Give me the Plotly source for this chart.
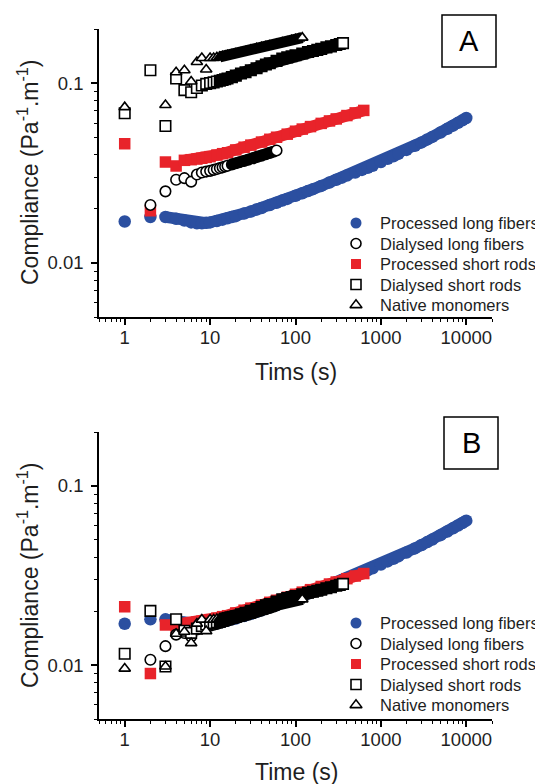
import plotly.graph_objects as go
import math

# ---------------- data ----------------
# Panel A: raw creep compliance curves
t_blue = [1, 2, 3, 4, 5, 6, 7, 8, 9, 10, 12, 14, 16, 18, 20, 25, 30, 35, 40, 50, 60, 70, 80,
          100, 120, 140, 160, 200, 250, 300, 350, 400, 500, 600, 700, 800, 1000, 1200, 1400,
          1600, 2000, 2500, 3000, 3500, 4000, 5000, 6000, 7000, 8000, 9000, 10000]
c_blue = [0.0170, 0.0180, 0.0180, 0.0176, 0.0172, 0.0168, 0.0166, 0.0166, 0.0167, 0.0168,
          0.0171, 0.0174, 0.0177, 0.0180, 0.0182, 0.0188, 0.0193, 0.0198, 0.0202, 0.0210,
          0.0216, 0.0222, 0.0227, 0.0236, 0.0244, 0.0251, 0.0257, 0.0268, 0.0280, 0.0290,
          0.0298, 0.0306, 0.0318, 0.0329, 0.0338, 0.0347, 0.0364, 0.0379, 0.0392, 0.0404,
          0.0425, 0.0448, 0.0468, 0.0486, 0.0502, 0.0531, 0.0557, 0.0580, 0.0601, 0.0621,
          0.0640]

t_red = [1, 2, 3, 4, 5, 6, 7, 8, 9, 10, 12, 14, 16, 20, 25, 30, 40, 50, 60, 80, 100, 120,
         150, 200, 250, 300, 400, 500, 630]
c_red = [0.046, 0.0195, 0.0364, 0.0346, 0.0372, 0.0375, 0.0378, 0.0382, 0.0386, 0.0390,
         0.0398, 0.0405, 0.0410, 0.0425, 0.0440, 0.0452, 0.0470, 0.0487, 0.0500, 0.0520,
         0.0540, 0.0555, 0.0573, 0.0597, 0.0616, 0.0632, 0.0660, 0.0683, 0.0705]

t_circ = [2, 3, 4, 5, 6, 7, 8, 9, 10, 11, 12, 13, 14, 15, 16, 18, 20, 22, 25, 28, 32, 36,
          40, 45, 50, 55, 60]
c_circ = [0.021, 0.025, 0.029, 0.0296, 0.0283, 0.0310, 0.0318, 0.0322, 0.0325, 0.0329,
          0.0333, 0.0337, 0.0340, 0.0344, 0.0347, 0.0353, 0.0358, 0.0363, 0.0369, 0.0375,
          0.0382, 0.0389, 0.0395, 0.0402, 0.0409, 0.0415, 0.0422]

t_sq = [1, 2, 3, 4, 5, 6, 7, 8, 9, 10, 11, 12, 13, 14, 15, 16, 18, 20, 23, 26, 30, 35, 40,
        45, 50, 60, 70, 80, 90, 100, 120, 140, 160, 180, 200, 230, 260, 300, 330, 360]
c_sq = [0.068, 0.118, 0.0577, 0.106, 0.0914, 0.089, 0.094, 0.097, 0.099, 0.100, 0.101,
        0.102, 0.103, 0.104, 0.105, 0.106, 0.108, 0.110, 0.113, 0.115, 0.118, 0.121, 0.124,
        0.127, 0.129, 0.133, 0.137, 0.139, 0.141, 0.143, 0.146, 0.149, 0.151, 0.153, 0.155,
        0.158, 0.160, 0.163, 0.165, 0.167]

t_tri = [1, 3, 4, 5, 6, 7, 8, 9, 10, 11, 12, 13, 14, 15, 16, 18, 20, 23, 26, 30, 35, 40,
         45, 50, 60, 70, 80, 90, 100, 110, 120]
c_tri = [0.0735, 0.0755, 0.115, 0.118, 0.102, 0.131, 0.138, 0.119, 0.138, 0.138, 0.139,
         0.140, 0.141, 0.142, 0.143, 0.144, 0.146, 0.148, 0.150, 0.153, 0.156, 0.158, 0.160,
         0.162, 0.165, 0.168, 0.170, 0.173, 0.175, 0.177, 0.179]

# Panel B: vertical shift factors (master curve onto processed long fibers)
shift_blue = 1.0
shift_red = 0.46
shift_circ = 0.51
shift_sq = 0.17
shift_tri = 0.13

series_names = ["Processed long fibers", "Dialysed long fibers", "Processed short rods",
                "Dialysed short rods", "Native monomers"]
x_tick_vals = [1, 10, 100, 1000, 10000]
x_tick_text = ["1", "10", "100", "1000", "10000"]
y_tick_vals = [0.01, 0.1]
y_tick_text = ["0.01", "0.1"]

# ---------------- style ----------------
BLUE = "#2b4fa0"
RED = "#e8232a"
FONT = "Arial, Liberation Sans, sans-serif"
TXT = "#1e1e1e"

# plot area in window pixels (the page body adds an 8 px offset)
OFF = 8
PL, PR = 99, 492
PT, PB = 29, 719
W, H = 543, 784

def px(xp):
    return (xp - PL) / (PR - PL)

def py(yp):
    return (PB - yp) / (PB - PT)

fig = go.Figure()

def add_series(t, c, shift, xa, ya, symbol, size, filled_color, open_style, dense_from, lw):
    y = [v * shift for v in c]
    idx = [i for i, tv in enumerate(t) if tv >= dense_from]
    if idx:
        fig.add_trace(go.Scatter(x=[t[i] for i in idx], y=[y[i] for i in idx], mode="lines",
                                 line=dict(color=filled_color if not open_style else "black",
                                           width=lw),
                                 xaxis=xa, yaxis=ya, showlegend=False, hoverinfo="skip"))
    if open_style:
        fills = ["white" if (i == len(t) - 1 or tv < dense_from) else "black"
                 for i, tv in enumerate(t)]
        marker = dict(symbol=symbol, size=size, color=fills,
                      line=dict(color="black", width=1.6))
    else:
        marker = dict(symbol=symbol, size=size, color=filled_color, line=dict(width=0))
    fig.add_trace(go.Scatter(x=t, y=y, mode="markers", marker=marker, xaxis=xa, yaxis=ya,
                             showlegend=False, hoverinfo="skip"))

for xa, ya, sh in [("x", "y", (1, 1, 1, 1, 1)),
                   ("x2", "y2", (shift_blue, shift_red, shift_circ, shift_sq, shift_tri))]:
    add_series(t_blue, c_blue, sh[0], xa, ya, "circle", 12.5, BLUE, False, 3, 11.5)
    add_series(t_red, c_red, sh[1], xa, ya, "square", 11.5, RED, False, 5, 11.5)
    add_series(t_circ, c_circ, sh[2], xa, ya, "circle", 10.5, None, True, 17, 11)
    add_series(t_sq, c_sq, sh[3], xa, ya, "square", 10.5, None, True, 13, 12)
    add_series(t_tri, c_tri, sh[4], xa, ya, "triangle-up", 10, None, True, 13, 11)

# ---------- hand-placed legends (keys drawn by plotly on an overlay axis) ----------
leg_symbols = ["circle", "circle", "square", "square", "triangle-up"]
leg_sizes = [11, 10, 10, 10, 10.5]
leg_colors = [BLUE, "white", RED, "white", "white"]
leg_lines = [0, 1.6, 0, 1.6, 1.6]
leg_key_x = 356
leg_text_x = 378
leg_rows = {"A": [223, 243.5, 264, 284.5, 305], "B": [623, 643.5, 664, 684.5, 705]}

annotations = []
for panel, rows in leg_rows.items():
    for name, sym, sz, col, lwid, r in zip(series_names, leg_symbols, leg_sizes, leg_colors,
                                           leg_lines, rows):
        fig.add_trace(go.Scatter(
            x=[px(leg_key_x)], y=[py(r)], mode="markers", xaxis="x3", yaxis="y3",
            marker=dict(symbol=sym, size=sz, color=col, line=dict(color="black", width=lwid)),
            showlegend=False, hoverinfo="skip", cliponaxis=False))
        annotations.append(dict(text=name, x=px(leg_text_x), y=py(r), xref="paper",
                                yref="paper", showarrow=False, xanchor="left",
                                yanchor="middle",
                                font=dict(family=FONT, size=16.5, color=TXT)))

xr = [math.log10(0.5), math.log10(20000)]
yr = [math.log10(0.005), math.log10(0.2)]
x_minor = [m * 10 ** e for e in range(-1, 5) for m in range(2, 10) if 0.5 <= m * 10 ** e <= 20000]
y_minor = [m * 10 ** e for e in range(-3, 0) for m in range(2, 10) if 0.005 <= m * 10 ** e <= 0.2]

axis_common = dict(type="log", showline=True, linecolor="black", linewidth=1.5,
                   ticks="outside", ticklen=6, tickwidth=1.5, tickcolor="black",
                   showgrid=False, zeroline=False, mirror=False,
                   tickfont=dict(family=FONT, size=18.5, color=TXT))
xa = dict(axis_common, range=xr, tickvals=x_tick_vals, ticktext=x_tick_text,
          ticklabelstandoff=-3,
          minor=dict(tickvals=x_minor, ticks="outside", ticklen=3.5, tickwidth=1.2,
                     tickcolor="black", showgrid=False))
ya = dict(axis_common, range=yr, tickvals=y_tick_vals, ticktext=y_tick_text,
          ticklabelstandoff=4,
          minor=dict(tickvals=y_minor, ticks="outside", ticklen=3.5, tickwidth=1.2,
                     tickcolor="black", showgrid=False))

yA_bottom = py(317)
yB_top = py(432)

fig.update_layout(
    width=W, height=H,
    margin=dict(l=PL - OFF, r=W - (PR - OFF), t=PT - OFF, b=H - (PB - OFF)),
    paper_bgcolor="white", plot_bgcolor="rgba(0,0,0,0)",
    xaxis=dict(xa, domain=[0, 1], anchor="y"),
    yaxis=dict(ya, domain=[yA_bottom, 1], anchor="x"),
    xaxis2=dict(xa, domain=[0, 1], anchor="y2"),
    yaxis2=dict(ya, domain=[0, yB_top], anchor="x2"),
    xaxis3=dict(domain=[0, 1], range=[0, 1], visible=False, anchor="y3", fixedrange=True),
    yaxis3=dict(domain=[0, 1], range=[0, 1], visible=False, anchor="x3", fixedrange=True),
    showlegend=False,
)

title_font = dict(family=FONT, size=23, color=TXT)
annotations += [
    dict(text="Tims (s)", x=px(296), y=py(372), xref="paper", yref="paper", showarrow=False,
         font=title_font, xanchor="center", yanchor="middle"),
    dict(text="Time (s)", x=px(296), y=py(772), xref="paper", yref="paper", showarrow=False,
         font=title_font, xanchor="center", yanchor="middle"),
    dict(text="Compliance (Pa<sup>-1</sup>.m<sup>-1</sup>)", x=px(28), y=py(172),
         xref="paper", yref="paper", showarrow=False, font=title_font, textangle=-90,
         xanchor="center", yanchor="middle"),
    dict(text="Compliance (Pa<sup>-1</sup>.m<sup>-1</sup>)", x=px(28), y=py(575),
         xref="paper", yref="paper", showarrow=False, font=title_font, textangle=-90,
         xanchor="center", yanchor="middle"),
    dict(text="A", x=px(469), y=py(41), xref="paper", yref="paper", showarrow=False,
         font=dict(family=FONT, size=29, color="black"), xanchor="center", yanchor="middle"),
    dict(text="B", x=px(471), y=py(443), xref="paper", yref="paper", showarrow=False,
         font=dict(family=FONT, size=29, color="black"), xanchor="center", yanchor="middle"),
]
fig.update_layout(annotations=annotations)
fig.add_shape(type="rect", xref="paper", yref="paper", x0=px(442), x1=px(496), y0=py(67),
              y1=py(15), line=dict(color="black", width=1.5))
fig.add_shape(type="rect", xref="paper", yref="paper", x0=px(444), x1=px(498), y0=py(469),
              y1=py(417), line=dict(color="black", width=1.5))

fig.write_html("out.html")
